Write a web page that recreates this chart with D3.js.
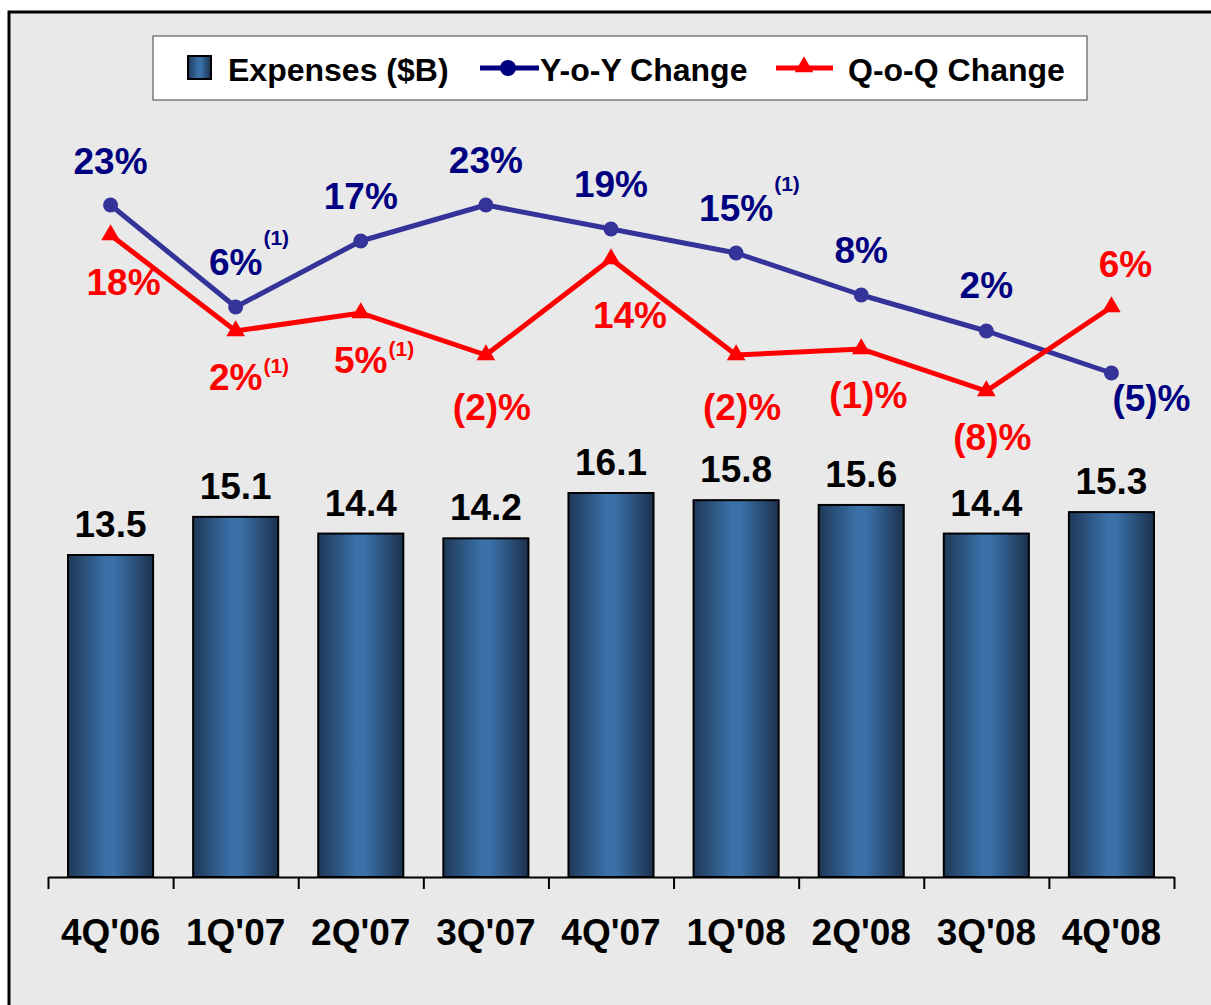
<!DOCTYPE html>
<html>
<head>
<meta charset="utf-8">
<script src="https://cdn.jsdelivr.net/npm/d3@7"></script>
<style>
  html, body { margin: 0; padding: 0; background: #fff; }
  svg { display: block; }
</style>
</head>
<body>
<div id="chart"></div>
<script>
// Quarterly expenses with Y-o-Y / Q-o-Q change
const quarters = ["4Q'06", "1Q'07", "2Q'07", "3Q'07", "4Q'07", "1Q'08", "2Q'08", "3Q'08", "4Q'08"];
const expenses = [13.5, 15.1, 14.4, 14.2, 16.1, 15.8, 15.6, 14.4, 15.3];
const yoyChange = [23, 6, 17, 23, 19, 15, 8, 2, -5];
const qoqChange = [18, 2, 5, -2, 14, -2, -1, -8, 6];
// footnote "(1)" flags
const yoyNote = [0, 1, 0, 0, 0, 1, 0, 0, 0];
const qoqNote = [0, 1, 1, 0, 0, 0, 0, 0, 0];

const W = 1211, H = 1005;
const font = "'Liberation Sans', Arial, sans-serif";
const navy = "#000080", lineBlue = "#333399", red = "#ff0000";

const svg = d3.select("#chart").append("svg")
    .attr("width", W)
    .attr("height", H);

// bar gradient
const defs = svg.append("defs");
const grad = defs.append("linearGradient")
    .attr("id", "barGrad")
    .attr("x1", "0%").attr("x2", "100%")
    .attr("y1", "0%").attr("y2", "0%");
grad.append("stop").attr("offset", "0%").attr("stop-color", "#1f3857");
grad.append("stop").attr("offset", "45%").attr("stop-color", "#3a71a9");
grad.append("stop").attr("offset", "55%").attr("stop-color", "#3a71a9");
grad.append("stop").attr("offset", "100%").attr("stop-color", "#1c314d");

// frame
svg.append("rect")
    .attr("x", 9).attr("y", 12)
    .attr("width", 1230).attr("height", 1020)
    .attr("fill", "#e9e9e9")
    .attr("stroke", "#000")
    .attr("stroke-width", 3);

// scales
const x = d3.scaleBand()
    .domain(quarters)
    .range([48, 1174])
    .paddingInner(0.32)
    .paddingOuter(0.16);

const xEdge = d3.scaleLinear()
    .domain([0, quarters.length])
    .range([48, 1174]);

const yBar = d3.scaleLinear()
    .domain([0, 30])
    .range([877, 161.5]);

const yPct = d3.scaleLinear()
    .domain([-10, 25])
    .range([403, 193]);

const cx = d => x(d) + x.bandwidth() / 2;

// bars
svg.append("g").selectAll("rect")
    .data(expenses)
    .enter()
    .append("rect")
    .attr("x", (d, i) => x(quarters[i]))
    .attr("y", d => yBar(d))
    .attr("width", x.bandwidth())
    .attr("height", d => yBar(0) - yBar(d))
    .attr("fill", "url(#barGrad)")
    .attr("stroke", "#000")
    .attr("stroke-width", 2);

// bar value labels
svg.append("g").selectAll("text")
    .data(expenses)
    .enter()
    .append("text")
    .attr("x", (d, i) => cx(quarters[i]))
    .attr("y", d => yBar(d) - 18)
    .attr("text-anchor", "middle")
    .attr("font-family", font)
    .attr("font-weight", "bold")
    .attr("font-size", "37px")
    .attr("fill", "#000")
    .text(d => d.toFixed(1));

// x axis: boundary ticks
const tickAxis = d3.axisBottom(xEdge)
    .tickValues(d3.range(quarters.length + 1))
    .tickFormat("")
    .tickSize(12)
    .tickSizeOuter(0);

const axisG = svg.append("g")
    .attr("transform", "translate(0,877)")
    .call(tickAxis);
axisG.select(".domain").attr("stroke", "#000").attr("stroke-width", 2);
axisG.selectAll(".tick line").attr("stroke", "#000").attr("stroke-width", 2);

// category labels
const catAxis = d3.axisBottom(x).tickSize(0).tickPadding(0);
const catG = svg.append("g")
    .attr("transform", "translate(0,945)")
    .call(catAxis);
catG.select(".domain").remove();
catG.selectAll("text")
    .attr("dy", 0)
    .attr("font-family", font)
    .attr("font-weight", "bold")
    .attr("font-size", "37px")
    .attr("fill", "#000");

// lines
const lineGen = d3.line()
    .x((d, i) => cx(quarters[i]))
    .y(d => yPct(d));

svg.append("path")
    .datum(yoyChange)
    .attr("d", lineGen)
    .attr("fill", "none")
    .attr("stroke", lineBlue)
    .attr("stroke-width", 5)
    .attr("stroke-linejoin", "round");

svg.append("path")
    .datum(qoqChange)
    .attr("d", lineGen)
    .attr("fill", "none")
    .attr("stroke", red)
    .attr("stroke-width", 5)
    .attr("stroke-linejoin", "miter");

// markers
svg.append("g").selectAll("circle")
    .data(yoyChange)
    .enter()
    .append("circle")
    .attr("cx", (d, i) => cx(quarters[i]))
    .attr("cy", d => yPct(d))
    .attr("r", 7.5)
    .attr("fill", lineBlue);

const tri = d3.symbol().type(d3.symbolTriangle).size(150);
svg.append("g").selectAll("path")
    .data(qoqChange)
    .enter()
    .append("path")
    .attr("d", tri)
    .attr("transform", (d, i) => `translate(${cx(quarters[i])},${yPct(d)})`)
    .attr("fill", red);

// percentage labels
const fmtPct = v => v < 0 ? `(${-v})%` : `${v}%`;

// label offsets relative to the point: [dx, baseline dy]
const yoyOffset = [[0, -31], [0, -32], [0, -32], [0, -32], [0, -32], [0, -32], [0, -32], [0, -33], [40, 38]];
const qoqOffset = [[13, 60], [0, 59], [0, 60], [6, 65], [19, 69], [6, 65], [7, 59], [6, 59], [14, -30]];

function drawLabels(values, notes, offsets, color, noteDy) {
    const g = svg.append("g");
    values.forEach((v, i) => {
        const px = cx(quarters[i]) + offsets[i][0];
        const py = yPct(v) + offsets[i][1];
        const t = g.append("text")
            .attr("x", px)
            .attr("y", py)
            .attr("text-anchor", "middle")
            .attr("font-family", font)
            .attr("font-weight", "bold")
            .attr("font-size", "37px")
            .attr("fill", color)
            .text(fmtPct(v));
        if (notes[i]) {
            const w = t.node().getComputedTextLength();
            g.append("text")
                .attr("x", px + w / 2 + 1)
                .attr("y", py + noteDy)
                .attr("font-family", font)
                .attr("font-weight", "bold")
                .attr("font-size", "21px")
                .attr("fill", color)
                .text("(1)");
        }
    });
}

drawLabels(yoyChange, yoyNote, yoyOffset, navy, -30);
drawLabels(qoqChange, qoqNote, qoqOffset, red, -17);

// legend
const legend = svg.append("g");
legend.append("rect")
    .attr("x", 153).attr("y", 36)
    .attr("width", 934).attr("height", 64)
    .attr("fill", "#fff")
    .attr("stroke", "#7a7a7a")
    .attr("stroke-width", 1.5);

legend.append("rect")
    .attr("x", 188).attr("y", 56)
    .attr("width", 23).attr("height", 23)
    .attr("fill", "url(#barGrad)")
    .attr("stroke", "#000")
    .attr("stroke-width", 2);

legend.append("line")
    .attr("x1", 480).attr("x2", 539)
    .attr("y1", 68).attr("y2", 68)
    .attr("stroke", navy)
    .attr("stroke-width", 5);
legend.append("circle")
    .attr("cx", 508).attr("cy", 68)
    .attr("r", 8)
    .attr("fill", navy);

legend.append("line")
    .attr("x1", 776).attr("x2", 833)
    .attr("y1", 68).attr("y2", 68)
    .attr("stroke", red)
    .attr("stroke-width", 5);
legend.append("path")
    .attr("d", tri)
    .attr("transform", "translate(804,67)")
    .attr("fill", red);

const legendLabels = [
    { x: 228, text: "Expenses ($B)" },
    { x: 540, text: "Y-o-Y Change" },
    { x: 848, text: "Q-o-Q Change" }
];
legend.selectAll(".legend-text")
    .data(legendLabels)
    .enter()
    .append("text")
    .attr("class", "legend-text")
    .attr("x", d => d.x)
    .attr("y", 81)
    .attr("font-family", font)
    .attr("font-weight", "bold")
    .attr("font-size", "32px")
    .attr("fill", "#000")
    .text(d => d.text);
</script>
</body>
</html>
